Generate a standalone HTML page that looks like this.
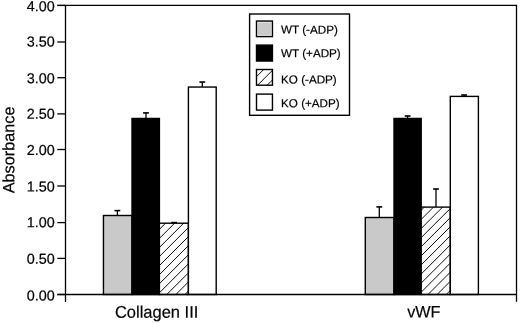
<!DOCTYPE html>
<html><head><meta charset="utf-8"><style>
html,body{margin:0;padding:0;background:#fff;}
body{width:520px;height:323px;overflow:hidden;}
.wrap{width:520px;height:323px;will-change:transform;}
svg{display:block;}
text{font-family:"Liberation Sans", sans-serif;fill:#000;stroke:#000;stroke-width:0.2px;}
</style></head><body><div class="wrap">
<svg width="520" height="323" viewBox="0 0 520 323">

<rect x="103.45" y="215.50" width="28.55" height="79.00" fill="#c9c9c9"/>
<rect x="103.45" y="215.50" width="28.55" height="79.00" fill="none" stroke="#000" stroke-width="1.4"/>
<line x1="117.40" y1="215.50" x2="117.40" y2="210.60" stroke="#000" stroke-width="1.3"/>
<line x1="114.50" y1="210.60" x2="120.30" y2="210.60" stroke="#000" stroke-width="1.6"/>
<rect x="132.00" y="118.45" width="27.40" height="176.05" fill="#000"/>
<rect x="132.00" y="118.45" width="27.40" height="176.05" fill="none" stroke="#000" stroke-width="1.4"/>
<line x1="146.00" y1="118.45" x2="146.00" y2="112.90" stroke="#000" stroke-width="1.3"/>
<line x1="143.10" y1="112.90" x2="148.90" y2="112.90" stroke="#000" stroke-width="1.6"/>
<rect x="159.40" y="223.20" width="29.00" height="71.30" fill="#fff"/>
<path d="M159.40 229.33L165.53 223.20M159.40 238.40L174.60 223.20M159.40 247.47L183.67 223.20M159.40 256.54L188.40 227.54M159.40 265.61L188.40 236.61M159.40 274.68L188.40 245.68M159.40 283.75L188.40 254.75M159.40 292.82L188.40 263.82M166.79 294.50L188.40 272.89M175.86 294.50L188.40 281.96M184.93 294.50L188.40 291.03" stroke="#000" stroke-width="0.95" fill="none"/>
<rect x="159.40" y="223.20" width="29.00" height="71.30" fill="none" stroke="#000" stroke-width="1.4"/>
<line x1="174.10" y1="223.20" x2="174.10" y2="222.60" stroke="#000" stroke-width="1.3"/>
<line x1="171.20" y1="222.60" x2="177.00" y2="222.60" stroke="#000" stroke-width="1.6"/>
<rect x="188.40" y="87.05" width="27.80" height="207.45" fill="#fff"/>
<rect x="188.40" y="87.05" width="27.80" height="207.45" fill="none" stroke="#000" stroke-width="1.4"/>
<line x1="202.30" y1="87.05" x2="202.30" y2="82.05" stroke="#000" stroke-width="1.3"/>
<line x1="199.40" y1="82.05" x2="205.20" y2="82.05" stroke="#000" stroke-width="1.6"/>
<rect x="365.30" y="217.50" width="28.70" height="77.00" fill="#c9c9c9"/>
<rect x="365.30" y="217.50" width="28.70" height="77.00" fill="none" stroke="#000" stroke-width="1.4"/>
<line x1="379.30" y1="217.50" x2="379.30" y2="206.90" stroke="#000" stroke-width="1.3"/>
<line x1="376.40" y1="206.90" x2="382.20" y2="206.90" stroke="#000" stroke-width="1.6"/>
<rect x="394.00" y="118.45" width="27.20" height="176.05" fill="#000"/>
<rect x="394.00" y="118.45" width="27.20" height="176.05" fill="none" stroke="#000" stroke-width="1.4"/>
<line x1="407.60" y1="118.45" x2="407.60" y2="116.00" stroke="#000" stroke-width="1.3"/>
<line x1="404.70" y1="116.00" x2="410.50" y2="116.00" stroke="#000" stroke-width="1.6"/>
<rect x="421.20" y="207.10" width="29.10" height="87.40" fill="#fff"/>
<path d="M421.20 210.30L424.40 207.10M421.20 219.40L433.50 207.10M421.20 228.50L442.60 207.10M421.20 237.60L450.30 208.50M421.20 246.70L450.30 217.60M421.20 255.80L450.30 226.70M421.20 264.90L450.30 235.80M421.20 274.00L450.30 244.90M421.20 283.10L450.30 254.00M421.20 292.20L450.30 263.10M428.00 294.50L450.30 272.20M437.10 294.50L450.30 281.30M446.20 294.50L450.30 290.40" stroke="#000" stroke-width="0.95" fill="none"/>
<rect x="421.20" y="207.10" width="29.10" height="87.40" fill="none" stroke="#000" stroke-width="1.4"/>
<line x1="436.00" y1="207.10" x2="436.00" y2="189.00" stroke="#000" stroke-width="1.3"/>
<line x1="433.10" y1="189.00" x2="438.90" y2="189.00" stroke="#000" stroke-width="1.6"/>
<rect x="450.30" y="96.40" width="28.10" height="198.10" fill="#fff"/>
<rect x="450.30" y="96.40" width="28.10" height="198.10" fill="none" stroke="#000" stroke-width="1.4"/>
<line x1="464.10" y1="96.40" x2="464.10" y2="95.00" stroke="#000" stroke-width="1.3"/>
<line x1="461.20" y1="95.00" x2="467.00" y2="95.00" stroke="#000" stroke-width="1.6"/>
<path d="M57.3 5.45 H516.5 V301.8 M65.5 5.45 V302 M57.3 294.5 H516.5" fill="none" stroke="#000" stroke-width="1.3"/>
<line x1="57.3" y1="294.50" x2="65.5" y2="294.50" stroke="#000" stroke-width="1.3"/>
<text transform="translate(54.80 300.55) rotate(0.05)" font-size="14.4" text-anchor="end">0.00</text>
<line x1="57.3" y1="258.40" x2="65.5" y2="258.40" stroke="#000" stroke-width="1.3"/>
<text transform="translate(54.80 263.85) rotate(0.05)" font-size="14.4" text-anchor="end">0.50</text>
<line x1="57.3" y1="222.60" x2="65.5" y2="222.60" stroke="#000" stroke-width="1.3"/>
<text transform="translate(54.80 227.25) rotate(0.05)" font-size="14.4" text-anchor="end">1.00</text>
<line x1="57.3" y1="186.00" x2="65.5" y2="186.00" stroke="#000" stroke-width="1.3"/>
<text transform="translate(54.80 191.60) rotate(0.05)" font-size="14.4" text-anchor="end">1.50</text>
<line x1="57.3" y1="149.50" x2="65.5" y2="149.50" stroke="#000" stroke-width="1.3"/>
<text transform="translate(54.80 155.05) rotate(0.05)" font-size="14.4" text-anchor="end">2.00</text>
<line x1="57.3" y1="113.90" x2="65.5" y2="113.90" stroke="#000" stroke-width="1.3"/>
<text transform="translate(54.80 118.70) rotate(0.05)" font-size="14.4" text-anchor="end">2.50</text>
<line x1="57.3" y1="77.70" x2="65.5" y2="77.70" stroke="#000" stroke-width="1.3"/>
<text transform="translate(54.80 83.35) rotate(0.05)" font-size="14.4" text-anchor="end">3.00</text>
<line x1="57.3" y1="42.00" x2="65.5" y2="42.00" stroke="#000" stroke-width="1.3"/>
<text transform="translate(54.80 46.55) rotate(0.05)" font-size="14.4" text-anchor="end">3.50</text>
<line x1="57.3" y1="5.45" x2="65.5" y2="5.45" stroke="#000" stroke-width="1.3"/>
<text transform="translate(54.80 11.35) rotate(0.05)" font-size="14.4" text-anchor="end">4.00</text>
<text transform="translate(14.30 193.30) rotate(-89.95)" font-size="16.25">Absorbance</text>
<text transform="translate(114.97 317.80) rotate(0.05) scale(1 1.025)" font-size="16.5">Collagen III</text>
<text transform="translate(407.15 317.50) rotate(0.05) scale(1 1.025)" font-size="16.25">vWF</text>
<rect x="249.6" y="14" width="99.9" height="101.3" fill="#fff" stroke="#000" stroke-width="1.4"/>
<rect x="256.5" y="21.05" width="15.95" height="15.55" fill="#c9c9c9"/>
<rect x="256.5" y="21.05" width="15.95" height="15.55" fill="#f2f2f2"/>
<rect x="258.00" y="22.55" width="12.95" height="12.55" fill="#c9c9c9"/>
<rect x="256.5" y="21.05" width="15.95" height="15.55" fill="none" stroke="#000" stroke-width="1.4"/>
<text transform="translate(281.10 33.60) rotate(0.05)" font-size="11.65">WT (-ADP)</text>
<rect x="256.5" y="45.10" width="15.95" height="15.95" fill="#000"/>
<rect x="256.5" y="45.10" width="15.95" height="15.95" fill="none" stroke="#000" stroke-width="1.4"/>
<text transform="translate(281.10 57.30) rotate(0.05)" font-size="11.65">WT (+ADP)</text>
<rect x="256.5" y="69.50" width="15.95" height="15.70" fill="#fff"/>
<path d="M256.50 76.70L263.70 69.50M257.60 85.20L272.45 70.35M267.20 85.20L272.45 79.95" stroke="#000" stroke-width="0.95" fill="none"/>
<rect x="256.5" y="69.50" width="15.95" height="15.70" fill="none" stroke="#000" stroke-width="1.4"/>
<text transform="translate(281.10 83.50) rotate(0.05)" font-size="11.65">KO (-ADP)</text>
<rect x="256.5" y="94.10" width="15.95" height="16.00" fill="#fff"/>
<rect x="256.5" y="94.10" width="15.95" height="16.00" fill="none" stroke="#000" stroke-width="1.4"/>
<text transform="translate(281.10 107.20) rotate(0.05)" font-size="11.65">KO (+ADP)</text>
</svg>
</div></body></html>
